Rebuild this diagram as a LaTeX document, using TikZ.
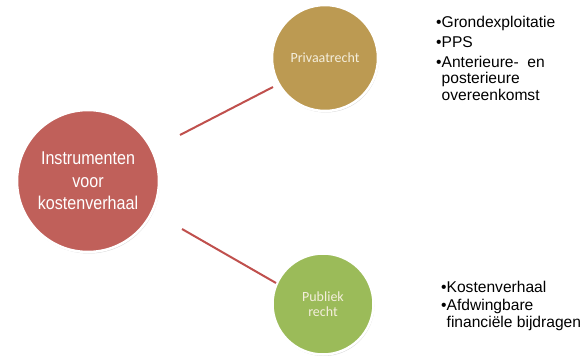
\documentclass[tikz,border=0pt]{standalone}
\usepackage{fontspec}
\setmainfont{Liberation Sans}
\newfontfamily\narrowfont[FakeStretch=0.87]{Liberation Sans}
\newfontfamily\calfont{Carlito}
\usetikzlibrary{shadows}
\definecolor{bigred}{HTML}{C0605A}
\definecolor{gold}{HTML}{BC9A52}
\definecolor{leaf}{HTML}{9BBB59}
\definecolor{linkred}{HTML}{C0504D}
\definecolor{cream}{HTML}{F4EEDC}
\tikzset{
  bubble/.style={circle, draw=white, line width=2.5pt, inner sep=0pt,
    drop shadow={shadow xshift=0.8pt, shadow yshift=-1.5pt, opacity=0.25, fill=black!60}},
  link/.style={draw=linkred, line width=2pt},
  item/.style={anchor=base west, inner sep=0pt, font=\fontsize{15.6}{17}\selectfont, text=black}
}
\begin{document}
\begin{tikzpicture}[x=1pt,y=-1pt]
\useasboundingbox (0,0) rectangle (586,358);
\fill[white] (0,0) rectangle (586,358);
% circles
\node[bubble, fill=bigred, minimum size=142pt, text=white, align=center,
  font=\narrowfont\fontsize{18.5}{22.5}\selectfont] (main) at (88,181)
  {Instrumenten\\voor\\kostenverhaal};
\node[bubble, fill=gold, minimum size=106pt, text=cream,
  font=\calfont\fontsize{14}{16}\selectfont] (priv) at (325,58) {Privaatrecht};
\node[bubble, fill=leaf, minimum size=101pt, text=cream, align=center,
  font=\calfont\fontsize{14}{14.5}\selectfont] (pub) at (323,304) {Publiek\\recht};
% connectors
\coordinate (a1) at (180,135);
\coordinate (a2) at (273,87);
\coordinate (b1) at (182,229);
\coordinate (b2) at (276,283);
\draw[link] (a1) -- (a2);
\draw[link] (b1) -- (b2);
% upper list
\node[item] (g1) at (436,28) {•Grondexploitatie};
\node[item] (g2) at (436,48) {•PPS};
\node[item] (g3) at (436,68) {•Anterieure-\ \ en};
\node[item] (g4) at (436,84) {\phantom{•}posterieure};
\node[item] (g5) at (436,101) {\phantom{•}overeenkomst};
% lower list
\node[item] (k1) at (441,292) {•Kostenverhaal};
\node[item] (k2) at (441,310) {•Afdwingbare};
\node[item] (k3) at (441,327) {\phantom{•}financiële\ bijdragen};
\end{tikzpicture}
\end{document}
